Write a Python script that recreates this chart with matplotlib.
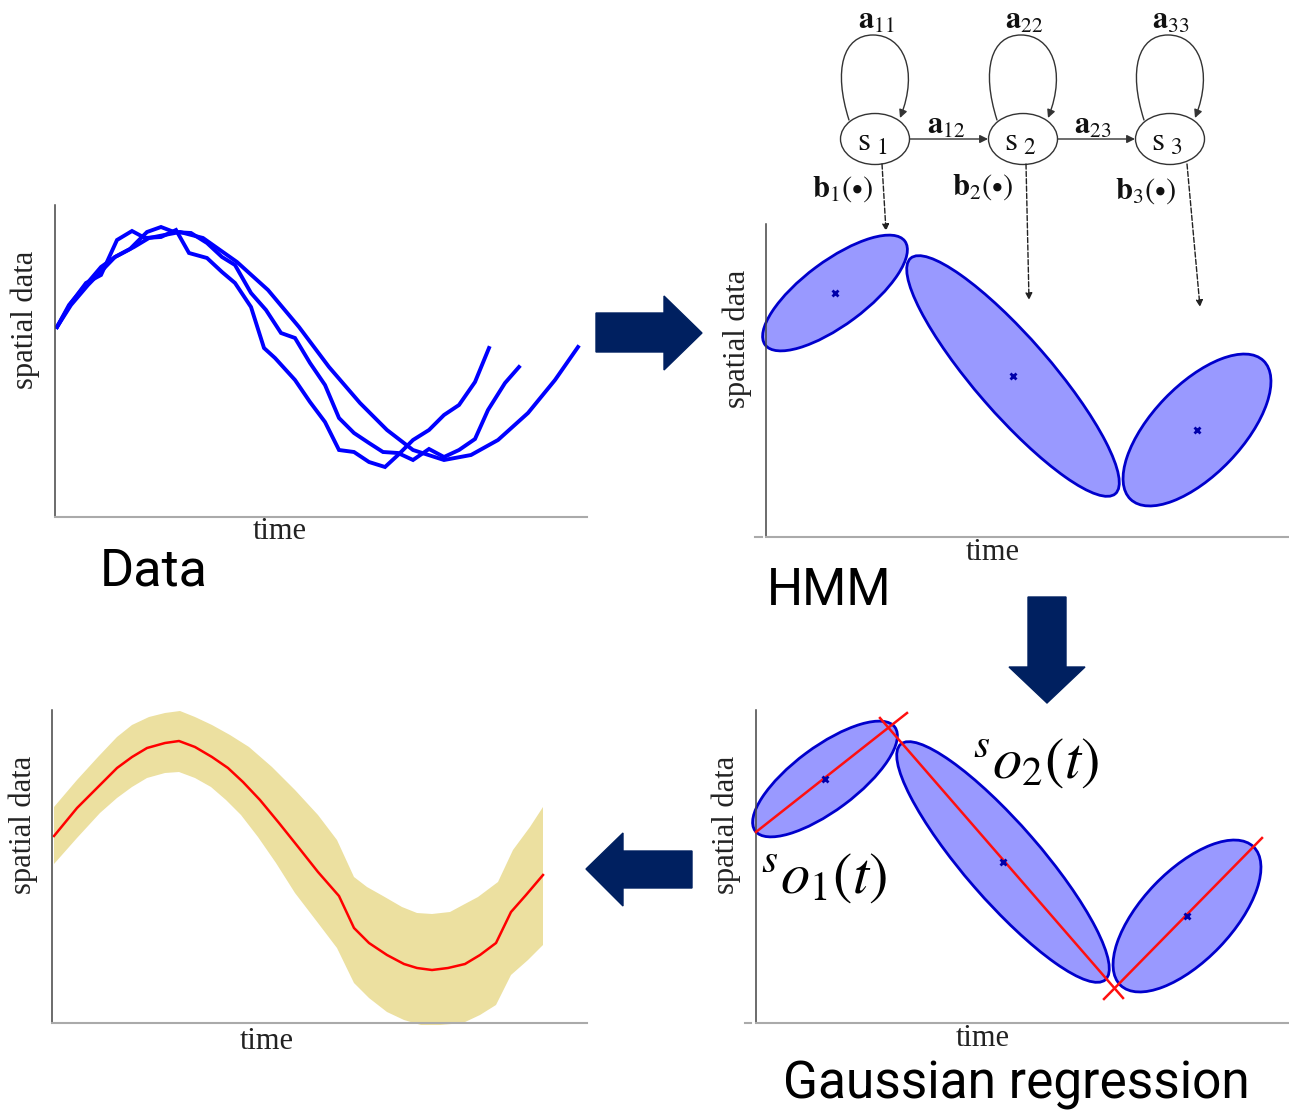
import numpy as np
import matplotlib
matplotlib.use('Agg')
import matplotlib.pyplot as plt
from matplotlib.patches import Ellipse, Polygon, FancyArrowPatch
from matplotlib.path import Path

plt.rcParams['mathtext.fontset'] = 'stix'

# ---- data (local units: time from left spine, value from bottom spine) ----
# panel 1: three raw demonstrations
t_a = [2, 16, 31, 46, 62, 77, 90, 106, 121, 134, 152, 167, 180, 196, 209, 220, 240,
       255, 270, 284, 299, 314, 330, 343, 358, 374, 389, 404, 420, 434]
v_a = [190, 214, 234, 242, 277, 286, 279, 280, 287, 264, 259, 245, 234, 210, 169, 159,
       137, 115, 95, 67, 65, 55, 50, 62, 77, 87, 102, 112, 135, 169]
t_b = [2, 14, 29, 46, 60, 75, 92, 106, 119, 136, 152, 167, 180, 196, 211, 226, 240,
       255, 270, 284, 299, 314, 328, 343, 358, 374, 389, 404, 420, 433, 450, 464]
v_b = [190, 212, 230, 250, 260, 268, 285, 290, 285, 284, 274, 260, 252, 224, 207, 184,
       179, 154, 132, 99, 84, 74, 65, 64, 57, 68, 60, 67, 78, 107, 134, 150]
t_c = [2, 16, 33, 60, 79, 94, 125, 148, 182, 213, 244, 274, 305, 332, 358, 389, 416,
       443, 473, 500, 523]
v_c = [190, 212, 232, 260, 270, 279, 285, 279, 255, 227, 190, 150, 114, 87, 67, 57, 62,
       77, 104, 137, 170]

# HMM states: centre (t, v), full width, full height, angle in degrees
ell_t = [69, 247, 431]
ell_v = [244, 161, 107]
ell_w = [174, 312, 192]
ell_h = [64, 76, 90]
ell_ang = [36.6, -49.0, 46.2]

# Gaussian regression lines (start / end points per state)
reg_t0 = [0, 124, 348]
reg_v0 = [191, 305, 24]
reg_t1 = [151, 367, 506]
reg_v1 = [310, 25, 185]

# panel 3: retrieved mean and band
t_mean = [2, 25, 48, 65, 80, 95, 113, 127, 143, 160, 176, 191, 208, 227, 247, 266,
          287, 302, 317, 335, 352, 365, 380, 396, 413, 428, 444, 459, 474, 491]
v_mean = [187, 215, 238, 255, 266, 275, 280, 282, 276, 266, 255, 241, 223, 200, 175,
          151, 127, 95, 80, 68, 59, 55, 53, 55, 59, 68, 80, 111, 128, 148]
t_up = [2, 25, 46, 65, 80, 97, 113, 128, 143, 160, 178, 197, 220, 243, 266, 285, 302,
        315, 331, 350, 365, 380, 398, 411, 426, 446, 461, 478, 491]
v_up = [216, 243, 266, 286, 298, 306, 310, 312, 306, 298, 288, 276, 256, 233, 208, 183,
        146, 136, 127, 116, 110, 109, 111, 118, 126, 141, 173, 196, 216]
t_lo = [2, 25, 48, 65, 80, 95, 113, 127, 143, 159, 174, 189, 206, 224, 243, 266, 285,
        302, 317, 335, 352, 369, 388, 411, 428, 444, 459, 476, 491]
v_lo = [159, 185, 210, 225, 236, 245, 250, 251, 245, 236, 223, 208, 186, 160, 130, 100,
        75, 40, 25, 11, 3, -2, -2, 0, 8, 18, 48, 63, 78]

W, H = 1289, 1113
fig = plt.figure(figsize=(W / 100, H / 100), dpi=100)

BLUE = '#0000ff'
NAVY = '#002060'
FILL = '#9999ff'
EDGE = '#0000cc'


def make_panel(l, t, r, b):
    ax = fig.add_axes([l / W, 1 - b / H, (r - l) / W, (b - t) / H])
    ax.set_xlim(0, r - l)
    ax.set_ylim(0, b - t)
    ax.set_xticks([])
    ax.set_yticks([])
    ax.spines['top'].set_visible(False)
    ax.spines['right'].set_visible(False)
    ax.spines['left'].set_color('#444444')
    ax.spines['left'].set_linewidth(1.1)
    ax.spines['bottom'].set_color('#aaaaaa')
    ax.spines['bottom'].set_linewidth(1.5)
    ax.patch.set_alpha(0)
    return ax


def draw_states(ax, with_lines):
    for i in range(3):
        e = Ellipse((ell_t[i], ell_v[i]), ell_w[i], ell_h[i], angle=ell_ang[i],
                    facecolor=FILL, edgecolor=EDGE, lw=2, clip_on=False)
        ax.add_patch(e)
    if with_lines:
        for i in range(3):
            ax.plot([reg_t0[i], reg_t1[i]], [reg_v0[i], reg_v1[i]], color='#ff1010',
                    lw=1.8, clip_on=False, zorder=3)
    ax.plot(ell_t, ell_v, ls='none', marker='x', ms=5, mew=2, color='#0000aa', zorder=4)


# panel 1: data
ax1 = make_panel(55, 205, 587, 517)
for tt, vv in [(t_a, v_a), (t_b, v_b), (t_c, v_c)]:
    ax1.plot(tt, vv, color=BLUE, lw=2.8, solid_joinstyle='miter')

# panel 2: HMM
ax2 = make_panel(766, 224, 1289, 537)
draw_states(ax2, False)

# panel 3: retrieved trajectory
ax3 = make_panel(52, 710, 587, 1023)
ax3.fill(np.concatenate([t_up, t_lo[::-1]]), np.concatenate([v_up, v_lo[::-1]]),
         color='#ece0a0', lw=0, clip_on=False)
ax3.plot(t_mean, v_mean, color='#ff0000', lw=1.8)

# panel 4: Gaussian regression
ax4 = make_panel(756, 710, 1289, 1023)
draw_states(ax4, True)

# ---- overlay in pixel coordinates ----
ov = fig.add_axes([0, 0, 1, 1], zorder=10)
ov.set_xlim(0, W)
ov.set_ylim(H, 0)
ov.axis('off')
ov.patch.set_visible(False)

serif = 'Liberation Serif'
for x, y in [(280, 539), (993, 560), (267, 1049), (983, 1046)]:
    ov.text(x, y, 'time', family=serif, fontsize=22, color='#222222',
            ha='center', va='baseline')
for x, y in [(25, 320), (737, 339), (23, 825), (726, 825)]:
    ov.text(x, y, 'spatial data', family=serif, fontsize=22, color='#222222',
            rotation=90, ha='center', va='center')

# tiny tick stubs at the origin of the right panels
ov.plot([755, 762], [537, 537], color='#aaaaaa', lw=1.5)
ov.plot([745, 751], [1023, 1023], color='#aaaaaa', lw=1.5)

big = 'Roboto'
ov.text(100, 586, 'Data', family=big, fontsize=37.5, ha='left', va='baseline')
ov.text(767, 605, 'HMM', family=big, fontsize=36.5, ha='left', va='baseline')
ov.text(783, 1098, 'Gaussian regression', family=big, fontsize=37, ha='left',
        va='baseline')

ov.text(973, 778, r'${}^{s}o_{2}(t)$', fontsize=42, ha='left', va='baseline')
ov.text(761, 893, r'${}^{s}o_{1}(t)$', fontsize=42, ha='left', va='baseline')

# block arrows
ov.add_patch(Polygon([(596, 313), (664, 313), (664, 296), (702, 333), (664, 370),
                      (664, 352), (596, 352)], closed=True, color=NAVY))
ov.add_patch(Polygon([(1028, 597), (1066, 597), (1066, 667), (1085, 667), (1047, 703),
                      (1009, 667), (1028, 667)], closed=True, color=NAVY))
ov.add_patch(Polygon([(692, 851), (623, 851), (623, 833), (586, 869), (623, 906),
                      (623, 888), (692, 888)], closed=True, color=NAVY))

# HMM state graph
state_x = [875, 1023, 1170]
state_y = 139
GR = '#333333'
for i, cx in enumerate(state_x):
    ov.add_patch(Ellipse((cx, state_y), 69, 51, facecolor='white', edgecolor=GR, lw=1))
    ov.text(cx - 3, state_y + 2, r'$\mathrm{s}_{\ %d}$' % (i + 1), fontsize=24,
            ha='center', va='center', color='#111111')
    verts = [(cx - 26, 120), (cx - 42, 70), (cx - 32, 35), (cx - 2, 35),
             (cx + 28, 35), (cx + 44, 70), (cx + 25, 118)]
    codes = [Path.MOVETO, Path.CURVE4, Path.CURVE4, Path.CURVE4,
             Path.CURVE4, Path.CURVE4, Path.CURVE4]
    ov.add_patch(FancyArrowPatch(path=Path(verts, codes), arrowstyle='-|>',
                                 mutation_scale=12, color=GR, lw=1))
    ov.text(cx + 1, 21, r'$\mathbf{a}_{%d%d}$' % (i + 1, i + 1), fontsize=22,
            ha='center', va='center', color='#111111')

for x0, x1, lab, lx in [(910, 988, r'$\mathbf{a}_{12}$', 946),
                        (1058, 1135, r'$\mathbf{a}_{23}$', 1093)]:
    ov.annotate('', xy=(x1, state_y), xytext=(x0, state_y),
                arrowprops=dict(arrowstyle='-|>', color=GR, lw=1, shrinkA=0,
                                shrinkB=0, mutation_scale=12))
    ov.text(lx, 126, lab, fontsize=22, ha='center', va='center', color='#111111')

for (x0, x1, y1), (bx, by), k in zip([(882, 886, 231), (1026, 1029, 300), (1187, 1200, 307)],
                                     [(843, 189), (983, 187), (1146, 191)], [1, 2, 3]):
    ov.annotate('', xy=(x1, y1), xytext=(x0, 164),
                arrowprops=dict(arrowstyle='-|>', color='#222222', lw=1, ls='--',
                                shrinkA=0, shrinkB=0, mutation_scale=10))
    ov.text(bx, by, r'$\mathbf{b}_{%d}(\bullet)$' % k, fontsize=22, ha='center',
            va='center', color='#111111')

fig.savefig('out.png', dpi=100)
